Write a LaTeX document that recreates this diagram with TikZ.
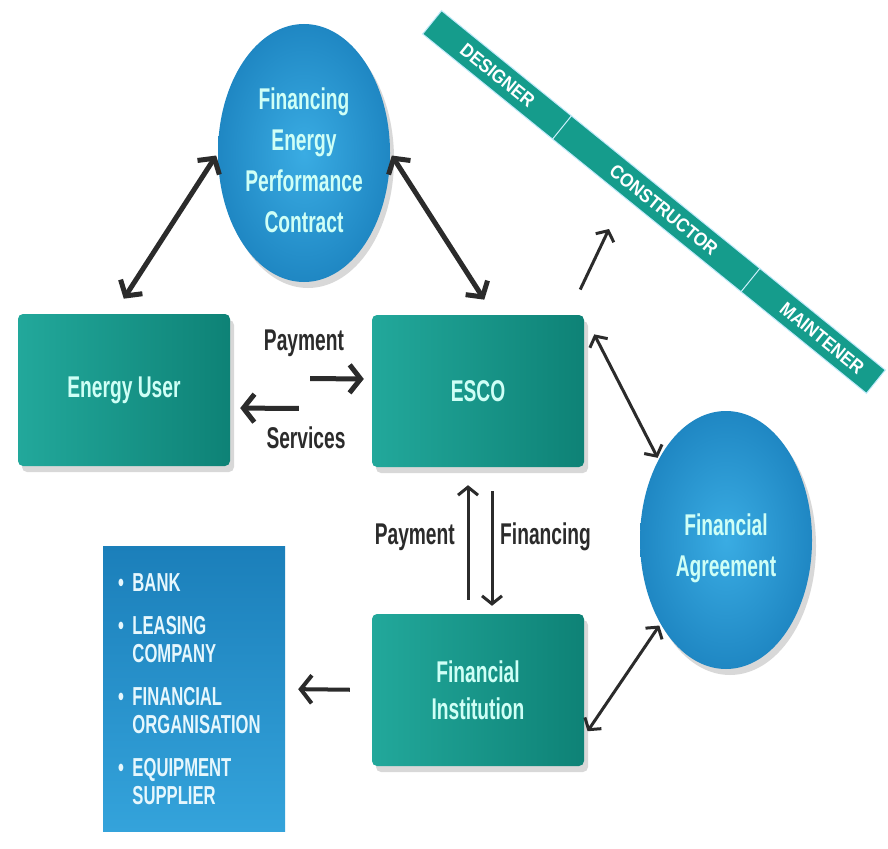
\documentclass[tikz,border=0pt]{standalone}
\usepackage{fontspec}
\newfontfamily\condfont[FakeStretch=0.64]{Liberation Sans}
\newfontfamily\bandfont[FakeStretch=0.9]{Liberation Sans}
\usetikzlibrary{arrows.meta,shapes.geometric,shadows,calc}
\definecolor{tealL}{HTML}{22A89B}
\definecolor{tealR}{HTML}{0E8276}
\definecolor{boxtext}{HTML}{CFFFF6}
\definecolor{blueI}{HTML}{3AACE3}
\definecolor{blueO}{HTML}{1F87C3}
\definecolor{bankT}{HTML}{1B7FBA}
\definecolor{bankB}{HTML}{34A3DB}
\definecolor{bandcol}{HTML}{159C8C}
\definecolor{arrowgray}{HTML}{2B2B2B}
\begin{document}
\begin{tikzpicture}[x=1pt,y=-1pt,
    tbox/.style={rectangle, rounded corners=5pt, minimum width=212pt, minimum height=152pt,
        left color=tealL, right color=tealR, text=boxtext, align=center,
        drop shadow={opacity=0.3, shadow xshift=4pt, shadow yshift=-6pt},
        font=\condfont\bfseries\fontsize{30}{37}\selectfont},
    bcirc/.style={ellipse, inner sep=0pt, minimum width=172pt, minimum height=258pt,
        inner color=blueI, outer color=blueO,
        drop shadow={opacity=0.3, shadow xshift=4pt, shadow yshift=-6pt}},
    ctext/.style={text=boxtext, align=center, font=\condfont\bfseries\fontsize{30}{41}\selectfont},
    lbl/.style={text=arrowgray, inner sep=0pt, font=\condfont\bfseries\fontsize{30}{36}\selectfont},
    bandlbl/.style={text=white, inner sep=0pt, rotate=-39, font=\bandfont\bfseries\fontsize{19}{20}\selectfont},
    dbl/.style={arrowgray, line width=5pt,
        {Straight Barb[length=11pt,width=26pt]}-{Straight Barb[length=11pt,width=26pt]}},
    sgl/.style={arrowgray, line width=5pt, -{Straight Barb[length=11pt,width=28pt]}},
    thin/.style={arrowgray, line width=3pt, -{Straight Barb[length=8pt,width=20pt]}},
    thindbl/.style={arrowgray, line width=3pt,
        {Straight Barb[length=8pt,width=20pt]}-{Straight Barb[length=8pt,width=20pt]}}]
    \path[use as bounding box, fill=white] (0,0) rectangle (888,848);

    \node[bcirc] (fepc) at (304,153) {};
    \node[ctext] (fepctxt) at (304,160) {Financing\\Energy\\Performance\\Contract};
    \node[bcirc] (fagree) at (726,540) {};
    \node[ctext] (fagreetxt) at (726,548) {Financial\\Agreement};

    \node[tbox] (user) at (124,390) {Energy User};
    \node[tbox] (esco) at (478,391) {ESCO};
    \node[tbox] (finst) at (478,690) {Financial\\Institution};

    \node[rectangle, minimum width=182pt, minimum height=285pt, top color=bankT, bottom color=bankB,
        text=white!90!cyan, align=left, text width=152pt, inner xsep=15pt,
        font=\condfont\bfseries\fontsize{26}{28}\selectfont] (banks) at (194,689)
        {\textbullet\ BANK\\[15pt]
         \textbullet\ LEASING\\\phantom{\textbullet\ }COMPANY\\[15pt]
         \textbullet\ FINANCIAL\\\phantom{\textbullet\ }ORGANISATION\\[15pt]
         \textbullet\ EQUIPMENT\\\phantom{\textbullet\ }SUPPLIER};

    \node[rectangle, rotate=-39, minimum width=571pt, minimum height=30pt, fill=bandcol,
        draw=cyan!25, line width=1pt] (band) at (654,202) {};
    \draw[white!80!cyan, line width=1pt] ($(band.north west)!0.293!(band.north east)$) -- ($(band.south west)!0.293!(band.south east)$);
    \draw[white!80!cyan, line width=1pt] ($(band.north west)!0.717!(band.north east)$) -- ($(band.south west)!0.717!(band.south east)$);
    \node[bandlbl] (designer) at ($(band.west)!0.148!(band.east)$) {DESIGNER};
    \node[bandlbl] (constructor) at ($(band.west)!0.522!(band.east)$) {CONSTRUCTOR};
    \node[bandlbl] (maintener) at ($(band.west)!0.878!(band.east)$) {MAINTENER};
    \coordinate (constip) at (609,229);

    \draw[dbl, shorten <=18pt, shorten >=3pt] ([xshift=-10pt]user.north) -- (fepc.west);
    \draw[dbl, shorten <=3pt, shorten >=18pt] (fepc.east) -- ([xshift=16pt]esco.north);
    \draw[thin, shorten <=28pt] ([xshift=-16pt]esco.north east) -- (constip);
    \draw[thindbl, shorten <=22pt, shorten >=2pt] (esco.north east) -- (fagree.130);
    \draw[thindbl, shorten <=6pt, shorten >=2pt] ([yshift=30pt]finst.south east) -- (fagree.232);

    \draw[sgl, shorten <=80pt, shorten >=8pt] ([yshift=12pt]user.east) -- ([yshift=12pt]esco.west);
    \draw[sgl, shorten <=73pt, shorten >=10pt] ([yshift=-18pt]esco.west) -- ([yshift=-18pt]user.east);
    \node[lbl] (pay1) at (304,343) {Payment};
    \node[lbl] (serv) at (306,438) {Services};

    \draw[thin, shorten <=14pt, shorten >=18pt] ([xshift=-10pt]finst.north) -- ([xshift=-10pt]esco.south);
    \draw[thin, shorten <=24pt, shorten >=8pt] ([xshift=14pt]esco.south) -- ([xshift=14pt]finst.north);
    \node[lbl, anchor=east] (pay2) at (455,537) {Payment};
    \node[lbl, anchor=west] (fin) at (500,537) {Financing};

    \draw[sgl, line width=4pt, shorten <=22pt, shorten >=13pt] (finst.west) -- (banks.east);
\end{tikzpicture}
\end{document}
